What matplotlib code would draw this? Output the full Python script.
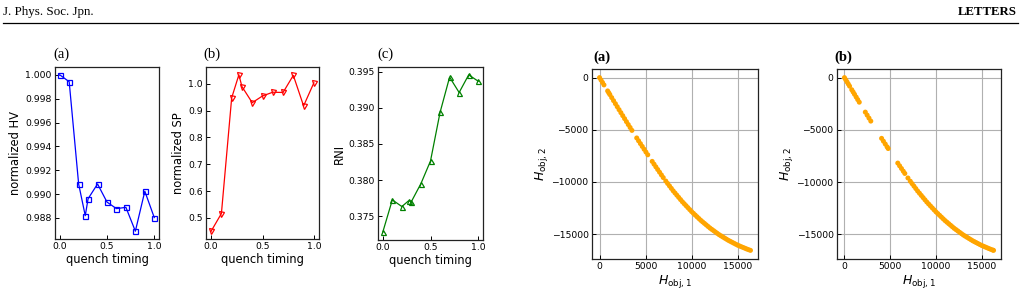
import matplotlib
matplotlib.use("Agg")
import matplotlib.pyplot as plt
from matplotlib.lines import Line2D

W, H = 1021, 297

# ---------------- data: left panels ----------------
quench_timing = [0.0, 0.1, 0.2, 0.27, 0.3, 0.4, 0.5, 0.6, 0.7, 0.8, 0.9, 1.0]
normalized_hv = [1.0000, 0.99942, 0.99085, 0.98819, 0.98961, 0.99085, 0.98933,
                 0.98878, 0.98889, 0.98689, 0.99024, 0.98803]
normalized_sp = [0.450, 0.516, 0.948, 1.034, 0.990, 0.930, 0.955, 0.969, 0.968,
                 1.032, 0.918, 1.004]
rni = [0.37279, 0.37725, 0.37633, 0.37712, 0.37702, 0.37951, 0.38263, 0.38934,
       0.39422, 0.39210, 0.39454, 0.39366]

hv_ticks = [0.988, 0.990, 0.992, 0.994, 0.996, 0.998, 1.000]
sp_ticks = [0.5, 0.6, 0.7, 0.8, 0.9, 1.0]
rni_ticks = [0.375, 0.380, 0.385, 0.390, 0.395]
qt_ticks = [0.0, 0.5, 1.0]

# ---------------- data: right panels (Pareto front samples) ----------------
front_a_h1 = [0, 160, 320, 480,
              880, 1000,
              1120, 1320, 1520, 1720, 1920, 2120, 2320, 2520, 2720, 2920, 3120, 3320, 3520,
              4040, 4240, 4440, 4640, 4840, 5040, 5240,
              5720, 5920, 6120, 6320, 6520, 6720, 6920,
              7200, 7400, 7600, 7800, 8000, 8200, 8400, 8600, 8800, 9000,
              9200, 9400, 9600, 9800, 10000, 10200, 10400, 10600, 10800, 11000,
              11200, 11400, 11600, 11800, 12000, 12200, 12400, 12600, 12800, 13000,
              13200, 13400, 13600, 13800, 14000, 14200, 14400, 14600, 14800, 15000,
              15200, 15400, 15600, 15800, 16000, 16200, 16400]
front_a_h2 = [0, -232, -464, -696,
              -1276, -1450,
              -1624, -1914, -2204, -2494, -2784, -3071, -3358, -3644, -3930, -4216, -4498, -4778, -5058,
              -5784, -6054, -6324, -6594, -6863, -7133, -7397,
              -8030, -8294, -8554, -8810, -9066, -9322, -9578,
              -9914, -10148, -10382, -10616, -10850, -11060, -11270, -11480, -11690, -11900,
              -12088, -12276, -12464, -12652, -12840, -13008, -13176, -13344, -13512, -13680,
              -13828, -13976, -14124, -14272, -14420, -14548, -14676, -14804, -14932, -15060,
              -15168, -15276, -15384, -15492, -15600, -15692, -15784, -15876, -15968, -16060,
              -16134, -16208, -16282, -16356, -16430, -16495, -16560]

front_b_h1 = [0, 140, 280, 420, 560,
              800, 950, 1100,
              1280, 1450, 1620,
              2280, 2480, 2680, 2880,
              4060, 4260, 4460, 4660, 4780,
              5830, 6030, 6230, 6430, 6600,
              6940, 7200, 7400, 7600, 7800, 8000, 8200, 8400, 8600, 8800, 9000,
              9200, 9400, 9600, 9800, 10000, 10200, 10400, 10600, 10800, 11000,
              11200, 11400, 11600, 11800, 12000, 12200, 12400, 12600, 12800, 13000,
              13200, 13400, 13600, 13800, 14000, 14200, 14400, 14600, 14800, 15000,
              15200, 15400, 15600, 15800, 16000, 16200, 16300]
front_b_h2 = [0, -203, -406, -609, -812,
              -1160, -1378, -1595,
              -1856, -2103, -2349,
              -3300, -3586, -3872, -4158,
              -5811, -6081, -6351, -6621, -6783,
              -8176, -8438, -8694, -8950, -9168,
              -9603, -9914, -10148, -10382, -10616, -10850, -11060, -11270, -11480, -11690, -11900,
              -12088, -12276, -12464, -12652, -12840, -13008, -13176, -13344, -13512, -13680,
              -13828, -13976, -14124, -14272, -14420, -14548, -14676, -14804, -14932, -15060,
              -15168, -15276, -15384, -15492, -15600, -15692, -15784, -15876, -15968, -16060,
              -16134, -16208, -16282, -16356, -16430, -16495, -16528]

h_ticks = [0, 5000, 10000, 15000]
h2_ticks = [0, -5000, -10000, -15000]

# ---------------- figure ----------------
plt.rcParams['font.family'] = ['DejaVu Sans']
plt.rcParams['mathtext.fontset'] = 'dejavusans'
fig = plt.figure(figsize=(W / 100, H / 100), dpi=100)

def add_axes_px(l, t, r, b):
    return fig.add_axes([l / W, 1 - b / H, (r - l) / W, (b - t) / H])

TICK_FS = 6.7
LABEL_FS = 8.3
SERIF = ['Liberation Serif', 'DejaVu Serif']

def style(ax):
    ax.tick_params(direction='in', labelsize=TICK_FS, length=3, width=0.7, pad=2.5)
    for s in ax.spines.values():
        s.set_linewidth(0.9)
        s.set_color('#222222')

# header
fig.text(3 / W, 1 - 15 / H, 'J. Phys. Soc. Jpn.', family=SERIF, fontsize=9.4,
         va='baseline', ha='left')
fig.text(1017 / W, 1 - 15 / H, 'LETTERS', family=SERIF, fontsize=9.2,
         weight='bold', va='baseline', ha='right')
fig.add_artist(Line2D([3 / W, 1018 / W], [1 - 22.5 / H, 1 - 22.5 / H],
                      color='black', linewidth=0.9, transform=fig.transFigure))

# left panels
specs = [
    ((55, 67, 159, 239), normalized_hv, 's', 'blue', 'normalized HV', hv_ticks, '%.3f', '(a)', 53),
    ((206, 67, 319, 239), normalized_sp, 'v', 'red', 'normalized SP', sp_ticks, '%.1f', '(b)', 203),
    ((378, 67, 483, 240), rni, '^', 'green', 'RNI', rni_ticks, '%.3f', '(c)', 377),
]
for box, vals, mk, col, ylab, yt, fmt, lab, lx in specs:
    ax = add_axes_px(*box)
    ax.plot(quench_timing, vals, color=col, marker=mk, markerfacecolor='none',
            markeredgecolor=col, markersize=3.6, markeredgewidth=0.9, linewidth=0.9)
    ax.set_xticks(qt_ticks)
    ax.set_yticks(yt)
    ax.set_yticklabels([fmt % v for v in yt])
    ax.set_xlabel('quench timing', fontsize=LABEL_FS, labelpad=1)
    ax.set_ylabel(ylab, fontsize=LABEL_FS, labelpad=2)
    style(ax)
    fig.text(lx / W, 1 - 54 / H, lab, family=SERIF, fontsize=10.5, va='center', ha='left')

# right panels
rspecs = [
    ((592, 69, 758, 259), front_a_h1, front_a_h2, '(a)', 593),
    ((837, 69, 1001, 259), front_b_h1, front_b_h2, '(b)', 834),
]
for box, hx, hy, lab, lx in rspecs:
    ax = add_axes_px(*box)
    ax.scatter(hx, hy, s=13, color='orange', edgecolors='none', zorder=3)
    ax.set_xticks(h_ticks)
    ax.set_yticks(h2_ticks)
    ax.grid(True, color='#b0b0b0', linewidth=0.8)
    ax.set_axisbelow(True)
    ax.set_xlabel(r'$H_{\mathrm{obj},1}$', fontsize=9, labelpad=1)
    ax.set_ylabel(r'$H_{\mathrm{obj},2}$', fontsize=9, labelpad=1)
    style(ax)
    fig.text(lx / W, 1 - 57 / H, lab, family=SERIF, fontsize=10.5, weight='bold',
             va='center', ha='left')

fig.savefig('out.png', dpi=100)
